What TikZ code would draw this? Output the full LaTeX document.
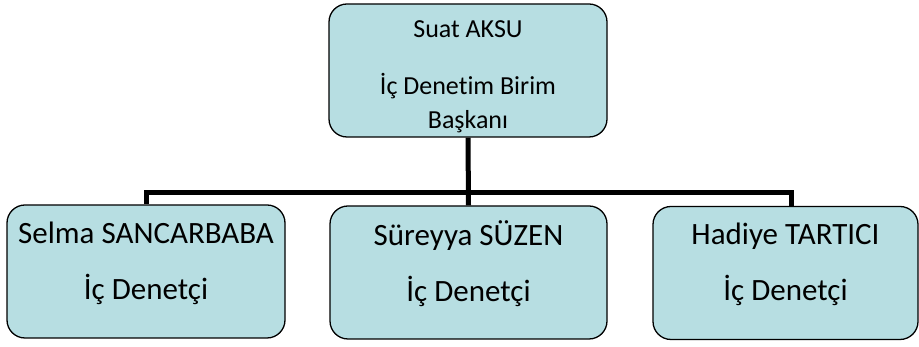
\documentclass[tikz,border=0pt]{standalone}
\usepackage{fontspec}
\setmainfont{Carlito}[Ligatures=NoCommon]
\definecolor{boxfill}{RGB}{183,222,226}
\tikzset{
	orgbox/.style={draw=black, line width=1.3pt, fill=boxfill, rounded corners=18pt, align=center, inner sep=0pt, minimum height=133pt},
	headfont/.style={font=\fontsize{26}{34}\selectfont},
	staff/.style={orgbox, font=\fontsize{31}{37}\selectfont},
	bus/.style={line width=5pt}
}

\begin{document}
\begin{tikzpicture}[x=1pt, y=1pt]
		%%%%% FRAME %%%%%
		\useasboundingbox (0, 0) rectangle (919, 347);
		
		%%%%% HEAD %%%%%
		\node[orgbox, headfont, minimum width=278pt] (head) at (468, 276.5) {\rule{0pt}{30pt}Suat AKSU\\[23pt] İç Denetim Birim\\ Başkanı};
		
		%%%%% STAFF %%%%%
		\node[staff, minimum width=278pt] (selma) at (146, 75.5) {Selma SANCARBABA\\[19pt] İç Denetçi\rule[-22.5pt]{0pt}{1pt}};
		\node[staff, minimum width=277pt] (sureyya) at (468.5, 74.5) {Süreyya SÜZEN\\[19pt] İç Denetçi\rule[-22.5pt]{0pt}{1pt}};
		\node[staff, minimum width=265pt] (hadiye) at (785.5, 74) {Hadiye TARTICI\\[19pt] İç Denetçi\rule[-22.5pt]{0pt}{1pt}};
		
		%%%%% LINES %%%%%
		\coordinate (junction) at (468, 154);
		\draw[bus] (head.south) -- (sureyya.north);
		\draw[bus] (selma.north) |- (junction) -| ([xshift=5.5pt]hadiye.north);
		
		%%%%% END %%%%%
\end{tikzpicture}
\end{document}
